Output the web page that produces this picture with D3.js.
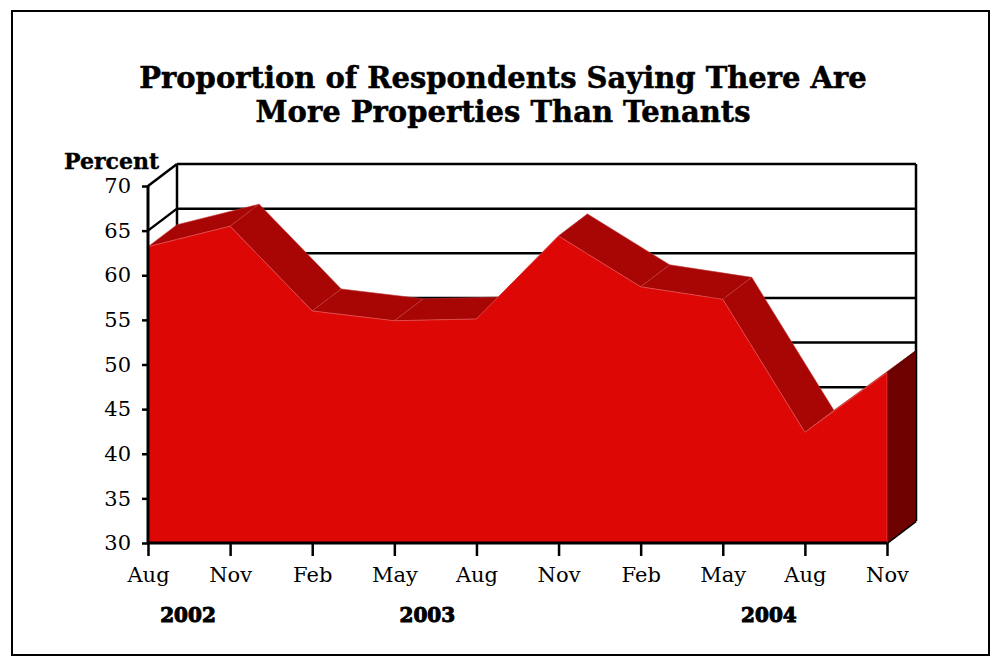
<!DOCTYPE html>
<html>
<head>
<meta charset="utf-8">
<script src="https://cdn.jsdelivr.net/npm/d3@7"></script>
<style>
  body { margin: 0; background: #fff; }
  text { font-family: "DejaVu Serif", serif; }
</style>
</head>
<body>
<div id="chart"></div>
<script>
const months = ["Aug", "Nov", "Feb", "May", "Aug", "Nov", "Feb", "May", "Aug", "Nov"];
const periods = ["2002-08", "2002-11", "2003-02", "2003-05", "2003-08", "2003-11", "2004-02", "2004-05", "2004-08", "2004-11"];
const values = [63.2, 65.5, 56.0, 54.9, 55.1, 64.4, 58.7, 57.3, 42.4, 49.1];
const years = ["2002", "2003", "2004"];
const yearAt = ["2002-08", "2003-05", "2004-08"];
const yTicks = [30, 35, 40, 45, 50, 55, 60, 65, 70];

const width = 992, height = 660;
const dim = { left: 148, right: 887, top: 186, bottom: 543 };
const depth = { x: 29, y: -22 };

var svg = d3.select("#chart")
  .append("svg")
  .attr("width", width)
  .attr("height", height);

// outer frame
svg.append("rect")
  .attr("x", 12).attr("y", 11)
  .attr("width", 977).attr("height", 644)
  .attr("fill", "none")
  .attr("stroke", "#000")
  .attr("stroke-width", 2);

var x = d3.scalePoint().domain(periods).range([dim.left, dim.right]);
var y = d3.scaleLinear().domain([30, 70]).range([dim.bottom, dim.top]);

// back wall grid + side wall lines
var grid = svg.append("g").attr("stroke", "#000").attr("stroke-width", 2.5).attr("fill", "none");
yTicks.forEach(function (t) {
  grid.append("line")
    .attr("x1", dim.left).attr("y1", y(t))
    .attr("x2", dim.left + depth.x).attr("y2", y(t) + depth.y);
  grid.append("line")
    .attr("x1", dim.left + depth.x).attr("y1", y(t) + depth.y)
    .attr("x2", dim.right + depth.x).attr("y2", y(t) + depth.y);
});
grid.append("line")
  .attr("x1", dim.left + depth.x).attr("y1", y(70) + depth.y)
  .attr("x2", dim.left + depth.x).attr("y2", y(30) + depth.y);
grid.append("line")
  .attr("x1", dim.right + depth.x).attr("y1", y(70) + depth.y)
  .attr("x2", dim.right + depth.x).attr("y2", y(30) + depth.y);
grid.append("line")
  .attr("x1", dim.right).attr("y1", y(30))
  .attr("x2", dim.right + depth.x).attr("y2", y(30) + depth.y);

// top faces of the ribbon
var topFaces = svg.append("g");
for (var i = 0; i < periods.length - 1; i++) {
  var x0 = x(periods[i]), y0 = y(values[i]);
  var x1 = x(periods[i + 1]), y1 = y(values[i + 1]);
  var pts = [[x0, y0], [x1, y1], [x1 + depth.x, y1 + depth.y], [x0 + depth.x, y0 + depth.y]];
  topFaces.append("polygon")
    .attr("points", pts.map(function (p) { return p.join(","); }).join(" "))
    .attr("fill", "#a80505")
    .attr("stroke", "#c23a3a")
    .attr("stroke-width", 0.6);
}

// right end face
var last = periods.length - 1;
var xe = x(periods[last]), ye = y(values[last]);
svg.append("polygon")
  .attr("points", [[xe, ye], [xe + depth.x, ye + depth.y], [xe + depth.x, y(30) + depth.y], [xe, y(30)]]
    .map(function (p) { return p.join(","); }).join(" "))
  .attr("fill", "#6e0000")
  .attr("stroke", "#000")
  .attr("stroke-width", 0.5);

// front face
var area = d3.area()
  .x(function (d, i) { return x(periods[i]); })
  .y0(y(30))
  .y1(function (d) { return y(d); });
svg.append("path")
  .datum(values)
  .attr("d", area)
  .attr("fill", "#dd0806")
  .attr("stroke", "#e85a5a")
  .attr("stroke-width", 0.6);

// y axis
var yAxis = svg.append("g")
  .attr("transform", "translate(" + dim.left + ",0)")
  .call(d3.axisLeft(y).tickValues(yTicks).tickSize(6).tickPadding(11));
yAxis.select(".domain").attr("stroke-width", 3).attr("d", "M0," + y(70) + "V" + y(30));
yAxis.selectAll(".tick line").attr("stroke-width", 2.5);
yAxis.selectAll("text")
  .attr("font-family", "DejaVu Serif")
  .attr("font-size", 21)
  .attr("fill", "#000");

// x axis
var xAxis = svg.append("g")
  .attr("transform", "translate(0," + dim.bottom + ")")
  .call(d3.axisBottom(x).tickSize(13).tickPadding(11).tickFormat(function (d, i) { return months[i]; }));
xAxis.select(".domain").attr("stroke-width", 3).attr("d", "M" + dim.left + ",0H" + dim.right);
xAxis.selectAll(".tick line").attr("stroke-width", 2.5);
xAxis.selectAll("text")
  .attr("font-family", "DejaVu Serif")
  .attr("font-size", 21)
  .attr("fill", "#000");

// year labels
svg.selectAll(".year")
  .data(years)
  .enter()
  .append("text")
  .attr("class", "year")
  .attr("x", function (d, i) { return x(yearAt[i]) + (i == 0 ? 40 : i == 1 ? 33 : -36); })
  .attr("y", 622)
  .attr("text-anchor", "middle")
  .attr("font-size", 20)
  .attr("font-weight", "bold")
  .attr("stroke", "#000")
  .attr("stroke-width", 1)
  .text(function (d) { return d; });

// axis title
svg.append("text")
  .attr("x", 64)
  .attr("y", 169)
  .attr("font-size", 22)
  .attr("font-weight", "bold")
  .attr("stroke", "#000")
  .attr("stroke-width", 0.4)
  .text("Percent");

// title
var title = ["Proportion of Respondents Saying There Are", "More Properties Than Tenants"];
svg.selectAll(".title")
  .data(title)
  .enter()
  .append("text")
  .attr("class", "title")
  .attr("x", 503)
  .attr("y", function (d, i) { return 88 + i * 34; })
  .attr("text-anchor", "middle")
  .attr("font-size", 29)
  .attr("font-weight", "bold")
  .attr("stroke", "#000")
  .attr("stroke-width", 0.5)
  .text(function (d) { return d; });
</script>
</body>
</html>
